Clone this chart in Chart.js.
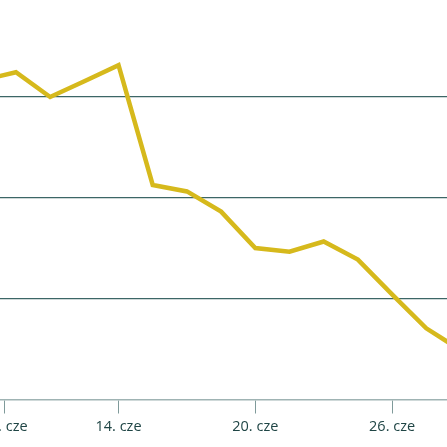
<!DOCTYPE html>
<html>
<head>
<meta charset="utf-8">
<script src="https://cdn.jsdelivr.net/npm/chart.js@4"></script>
<style>
  html, body { margin: 0; padding: 0; background: #fff; }
  #wrap { width: 447px; height: 447px; }
</style>
</head>
<body>
<div id="wrap"><canvas id="chart"></canvas></div>
<script>
// dni czerwca (punkty co 1,5 dnia)
const dni = [8, 9.5, 11, 12.5, 14, 15.5, 17, 18.5, 20, 21.5, 23, 24.5, 26, 27.5, 29];
const wartosci = [31.6, 32.4, 29.95, 31.5, 33.1, 21.24, 20.6, 18.6, 15.0, 14.63, 15.64, 13.85, 10.4, 7.05, 4.9];

// etykiety osi X (dzień wyrównany spacją, jak %e)
const tickDni = [9, 14, 20, 26];
const tickEtykiety = ["\u20079. cze", "14. cze", "20. cze", "26. cze"];

const punkty = dni.map((d, i) => ({ x: d, y: wartosci[i] }));

new Chart(document.getElementById("chart").getContext("2d"), {
    type: "line",
    data: {
        datasets: [
            {
                data: punkty,
                borderColor: "#d6b91c",
                borderWidth: 4.5,
                pointRadius: 0,
                tension: 0,
                fill: false,
            },
        ],
    },
    options: {
        responsive: true,
        maintainAspectRatio: false,
        animation: false,
        layout: { padding: 0 },
        plugins: {
            legend: { display: false },
            tooltip: { enabled: false },
        },
        scales: {
            x: {
                type: "linear",
                min: 8.8,
                max: 28.41,
                afterBuildTicks: (s) => {
                    s.ticks = tickDni.map((v) => ({ value: v }));
                },
                afterFit: (s) => {
                    s.height = 47.5;
                    s.paddingLeft = 0;
                    s.paddingRight = 0;
                },
                ticks: {
                    autoSkip: false,
                    maxRotation: 0,
                    padding: 5,
                    color: "#1f4545",
                    font: { family: "Open Sans", size: 14.5 },
                    callback: (v) => tickEtykiety[tickDni.indexOf(v)],
                },
                grid: {
                    drawOnChartArea: false,
                    drawTicks: true,
                    tickLength: 14,
                    tickColor: "#7f9a9a",
                },
                border: { display: true, color: "#9fb3b3", width: 1.5 },
            },
            y: {
                min: 0,
                max: 39.55,
                afterFit: (s) => {
                    s.width = 0;
                },
                ticks: {
                    display: false,
                    stepSize: 10,
                    includeBounds: false,
                },
                grid: {
                    drawTicks: false,
                    color: (c) => (c.tick.value === 0 ? "rgba(0,0,0,0)" : "#3c6666"),
                    lineWidth: 1.2,
                },
                border: { display: false },
            },
        },
    },
});
</script>
</body>
</html>
